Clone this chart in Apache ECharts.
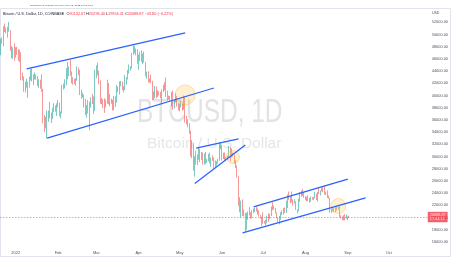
<!DOCTYPE html>
<html><head><meta charset="utf-8">
<script src="https://cdn.jsdelivr.net/npm/echarts@6/dist/echarts.min.js"></script>
<style>html,body{margin:0;padding:0;background:#fff}#c{width:451px;height:257px}</style>
</head><body><div id="c"></div>
<script>
// ---- data (Coinbase BTC/USD daily, Dec 21 2021 – Sep 2 2022) ----
const startDate = [2021, 11, 21];
const axisDays = 313; // axis runs to Oct 29 2022 (empty right margin)
const opens = [
46880,48940,48630,50820,50430,50800,50700,50700,47540,46470,47130,
46210,47740,47300,46450,45830,43430,43080,41560,41680,41860,41830,42740,43920,42590,43080,43100,43180,42250,42370,41690,40700,36470,35070,36280,36660,36960,36820,37160,37720,38170,37920,
38480,38740,36900,37330,41570,41400,42410,43850,44090,44400,43550,42390,42220,42070,42550,44580,43900,40560,40010,40100,38380,37020,38260,37260,38360,39230,39120,37700,
43180,44420,43910,42450,39140,39400,38420,38060,38740,41960,39430,38730,38810,37780,39670,39280,41120,40930,41770,42230,41260,41000,42370,42900,43990,44310,44520,46820,47130,47440,47070,
45530,46290,45830,46420,46620,45520,43170,43450,42280,42770,42150,39520,40080,41150,39940,40560,40380,39680,40800,41500,41360,40480,39710,39470,39450,40430,38110,39240,39740,38600,
37640,38470,38530,37730,39700,36550,36010,35470,34060,30100,31010,28940,29040,29290,30090,31320,29850,30430,28700,30300,29200,29430,30280,29090,29650,29540,29190,28620,29020,29450,31720,
31790,29800,30450,29700,29860,29910,31370,31130,30200,30110,29080,28420,26580,22490,22130,22580,20380,20450,19020,20560,20710,20720,19970,21100,21230,21490,21030,20730,20270,20100,
19940,19290,19250,19300,20220,20190,20540,21620,21580,21590,20850,19960,19330,20220,20580,20830,21190,20790,22430,23400,23230,23160,22680,22450,22580,21310,21250,22950,23850,23780,23640,
23300,23270,22990,22820,22620,23310,22960,23180,23810,23160,23950,23940,24400,24440,24310,24130,23860,23340,23210,20830,21140,21520,21400,21530,21370,21580,20270,20040,19560,20290,19800,
20050,20132.67];
const highs = [
49300,49570,51380,51810,51150,51260,52060,50700,48120,47900,48550,
47940,47990,47570,47510,47070,43750,43140,42300,42790,42250,43100,44350,44440,43450,43780,43480,43190,42670,42590,43500,41100,36830,36500,37550,37550,38950,37230,38000,38730,38370,38740,
39270,38850,37390,41750,41940,42660,44500,45500,44800,45850,43950,43010,42750,42860,44750,44580,44200,40960,40470,40150,39460,38440,39260,38990,39720,40300,39850,44230,
44950,45400,44080,42500,39600,39410,39540,39360,42600,42050,40240,39490,39300,39930,39880,41720,41470,42320,42400,42300,41550,43350,43020,44210,45100,44800,46930,48190,48100,47700,47600,
46720,47190,47440,46880,47200,45520,43900,43970,42800,43430,42420,40700,41560,41500,40870,40710,40600,41000,41760,42200,42980,40800,39990,39930,40600,40800,39460,40370,39930,38790,
38680,39150,38640,40000,39800,36650,36140,35500,34250,32650,32190,30050,31000,30350,31420,31320,30780,30670,30520,30750,29610,30440,30650,29820,30200,29850,29360,29210,29600,32200,32400,
31960,30640,30680,29950,30150,31750,31550,31330,30650,30350,29450,28550,26880,23340,22780,22980,21340,20750,20800,21000,21730,20860,21210,21500,21580,21860,21510,21180,20430,20140,
20870,19430,19650,20300,20700,20630,21830,22500,21940,21600,20860,20050,20250,20880,21200,21560,21650,22770,23780,24270,23430,24260,22990,23000,22660,21330,23100,24200,24440,24670,24170,
23470,23450,23650,23220,23460,23350,23380,24240,23920,24220,24920,24450,24870,25050,25210,24240,24450,23600,23210,21380,21690,21530,21680,21800,21800,21880,20400,20150,20390,20580,20490,
20200,20296.40];
const lows = [
46630,48430,48070,50420,50180,49480,50460,47320,46100,46000,45680,
46210,46650,45700,45500,42500,42450,40610,40500,41270,39650,41290,42460,42300,41730,42600,42600,41550,41250,41110,40610,35460,34010,34620,32950,35700,36260,35510,36160,37310,37350,36650,
38020,36620,36250,37050,40990,41150,41660,42670,43140,43250,42000,41760,41880,41600,42430,43340,40090,39480,39680,38010,36820,36370,37060,34320,38020,38600,37000,37450,
42850,43330,41830,38650,38580,37960,37150,38010,38650,38550,38230,38660,37580,37570,38120,38840,40520,40150,41500,40920,40520,40890,41760,42630,43600,44080,44420,46680,46940,46580,45200,
44210,45650,45530,45120,45380,43130,42730,42140,42130,42000,39200,39250,39560,39550,39770,40030,39550,38540,40570,40830,39770,39180,39310,38940,38200,37700,37880,38860,38200,37580,
37400,38050,37510,37680,35570,35270,34780,33700,30030,29740,27700,26700,28700,28600,29480,29100,29460,28670,28690,28760,28950,29230,28860,28330,29290,28020,28280,28500,28840,29300,31210,
29330,29580,29360,29480,29500,29880,29220,29850,29980,28850,28120,26560,21900,20850,20080,20250,20230,17620,17960,19650,20350,19770,19900,20740,20900,20970,20510,20190,19850,18630,
18990,19000,18780,19050,19300,19770,20250,21200,21320,20670,19900,19240,18900,19650,20380,20480,20760,20760,21570,22920,22330,22510,21950,22290,21250,20710,21040,22600,23420,23550,23240,
22850,22680,22700,22440,22590,22940,22840,23150,22880,22660,23850,23600,24300,24150,23780,23690,23200,23100,20790,20760,21050,20900,20900,21150,21330,20130,19850,19560,19550,19550,19800,
19560,19954.41];
const closes = [
48940,48630,50820,50430,50800,50700,50700,47540,46470,47130,46210,
47740,47300,46450,45830,43430,43080,41560,41680,41860,41830,42740,43920,42590,43080,43100,43180,42250,42370,41690,40700,36470,35070,36280,36660,36960,36820,37160,37720,38170,37920,38480,
38740,36900,37330,41570,41400,42410,43850,44090,44400,43550,42390,42220,42070,42550,44580,43900,40560,40010,40100,38380,37020,38260,37260,38360,39230,39120,37700,43180,
44420,43910,42450,39140,39400,38420,38060,38740,41960,39430,38730,38810,37780,39670,39280,41120,40930,41770,42230,41260,41000,42370,42900,43990,44310,44520,46820,47130,47440,47070,45530,
46290,45830,46420,46620,45520,43170,43450,42280,42770,42150,39520,40080,41150,39940,40560,40380,39680,40800,41500,41360,40480,39710,39470,39450,40430,38110,39240,39740,38600,37640,
38470,38530,37730,39700,36550,36010,35470,34060,30100,31010,28940,29040,29290,30090,31320,29850,30430,28700,30300,29200,29430,30280,29090,29650,29540,29190,28620,29020,29450,31720,31790,
29800,30450,29700,29860,29910,31370,31130,30200,30110,29080,28420,26580,22490,22130,22580,20380,20450,19020,20560,20710,20720,19970,21100,21230,21490,21030,20730,20270,20100,19940,
19290,19250,19300,20220,20190,20540,21620,21580,21590,20850,19960,19330,20220,20580,20830,21190,20790,22430,23400,23230,23160,22680,22450,22580,21310,21250,22950,23850,23780,23640,23300,
23270,22990,22820,22620,23310,22960,23180,23810,23160,23950,23940,24400,24440,24310,24130,23860,23340,23210,20830,21140,21520,21400,21530,21370,21580,20270,20040,19560,20290,19800,20050,
20132.67,20088.87];
const monthStarts = ['2022-01-01','2022-02-01','2022-03-01','2022-04-01','2022-05-01','2022-06-01','2022-07-01','2022-08-01','2022-09-01','2022-10-01'];
const monthLabels = ['2022','Feb','Mar','Apr','May','Jun','Jul','Aug','Sep','Oct'];
const yMin = 14000, yMax = 54000, yStep = 2000;
// drawn annotations: trend lines [[date, price],[date, price]]
const trendLines = [
  [['2022-01-09', 44350], ['2022-05-05', 50250]],
  [['2022-01-24', 33040], ['2022-05-26', 41235]],
  [['2022-05-13', 31400], ['2022-06-13', 32880]],
  [['2022-05-12', 25600], ['2022-06-18', 31900]],
  [['2022-06-24', 21735], ['2022-09-01', 26320]],
  [['2022-06-16', 17500], ['2022-09-14', 23210]]
];
const circleMarks = [['2022-05-05', 40100, 20], ['2022-06-09', 29930, 13], ['2022-08-25', 21900, 15]];
const countdown = '17:44:12';

// ---- build ----
const categories = [];
for (let i = 0; i < axisDays; i++) {
  const d = new Date(Date.UTC(startDate[0], startDate[1], startDate[2] + i));
  categories.push(d.toISOString().slice(0, 10));
}
const candles = opens.map((o, i) => [o, closes[i], lows[i], highs[i]]);
const n = closes.length - 1;
const lastClose = closes[n];
const chg = closes[n] - closes[n - 1];
const chgPct = chg / closes[n - 1] * 100;
const RED = '#ef5350', GREEN = '#26a69a', BLUE = '#2962ff';

const chart = echarts.init(document.getElementById('c'), null, {renderer: 'canvas'});
const series = [{
  type: 'candlestick', data: candles, barWidth: '70%',
  itemStyle: {color: GREEN, color0: RED, borderColor: GREEN, borderColor0: RED, borderWidth: 0.6},
  markLine: {
    symbol: 'none', silent: true,
    data: [{yAxis: lastClose}],
    lineStyle: {color: RED, type: [1.5, 1.5], width: 0.7, opacity: 0.8},
    label: {position: 'end', distance: 0, formatter: () => lastClose.toFixed(2) + '\n' + countdown,
      backgroundColor: '#f23645', color: '#fff', fontSize: 3.8, lineHeight: 4.4, padding: [1, 2, 0.6, 2],
      fontFamily: 'Liberation Sans'}
  }
}];
trendLines.forEach(seg => series.push({
  type: 'line', data: seg, symbol: 'none', silent: true,
  lineStyle: {color: BLUE, width: 1.3}
}));
series.push({
  type: 'scatter', data: circleMarks.map(c => [c[0], c[1]]), symbolSize: (v, p) => circleMarks[p.dataIndex][2],
  itemStyle: {color: 'rgba(255,196,80,0.32)', borderColor: 'rgba(255,170,40,0.55)', borderWidth: 0.8}, silent: true
});

const font = 'Liberation Sans';
chart.setOption({
  animation: false,
  backgroundColor: '#ffffff',
  grid: {left: 0, right: 23, top: 10.1, bottom: 2.8, containLabel: false},
  xAxis: {
    type: 'category', data: categories, boundaryGap: true,
    axisLine: {show: false}, axisTick: {show: false}, splitLine: {show: false},
    axisLabel: {
      interval: (idx, val) => monthStarts.indexOf(val) >= 0,
      formatter: val => monthLabels[monthStarts.indexOf(val)] || '',
      fontSize: 4, color: '#50535e', margin: -3.6, fontFamily: font
    }
  },
  yAxis: {
    type: 'value', position: 'right', min: yMin, max: yMax, interval: yStep, scale: true,
    axisLine: {show: false}, axisTick: {show: false}, splitLine: {show: false},
    axisLabel: {formatter: v => (v === yMin || v === yMax) ? '' : v.toFixed(2), fontSize: 3.9, color: '#50535e', margin: 4, fontFamily: font}
  },
  graphic: [
    {type: 'rect', shape: {x: 0.5, y: 8.5, width: 450, height: 248}, style: {fill: 'none', stroke: '#e0e3eb', lineWidth: 1}, z: -10},
    {type: 'text', left: 137, top: 96, z: -5, scaleX: 0.72,
      style: {text: 'BTCUSD, 1D', fontSize: 34, fontFamily: font, fill: '#e3e3e5'}},
    {type: 'text', left: 147, top: 136, z: -5,
      style: {text: 'Bitcoin / U.S. Dollar', fontSize: 15.5, fontFamily: font, fill: '#e6e6e8'}},
    {type: 'text', left: 30, top: 3.6, style: {text: 'published on TradingView.com, Sep 02, 2022 06:15 UTC', fontSize: 2.5, fontFamily: font, fill: '#555'}},
    {type: 'text', left: 432, top: 11, style: {text: 'USD', fontSize: 3.5, fontFamily: font, fill: '#50535e'}},
    {type: 'text', left: 3, top: 12, style: {
      text: 'Bitcoin / U.S. Dollar, 1D, COINBASE  {l|O}{v|' + opens[n].toFixed(2) + '} {l|H}{v|' + highs[n].toFixed(2) +
        '} {l|L}{v|' + lows[n].toFixed(2) + '} {l|C}{v|' + closes[n].toFixed(2) + '} {v|\u2212' + Math.abs(chg).toFixed(2) +
        ' (\u2212' + Math.abs(chgPct).toFixed(2) + '%)}',
      fontSize: 3.8, fontFamily: font, fill: '#131722',
      rich: {l: {fontSize: 3.8, fill: '#131722', fontFamily: font}, v: {fontSize: 3.8, fill: '#f23645', fontFamily: font}}
    }}
  ],
  series: series
});
</script></body></html>
